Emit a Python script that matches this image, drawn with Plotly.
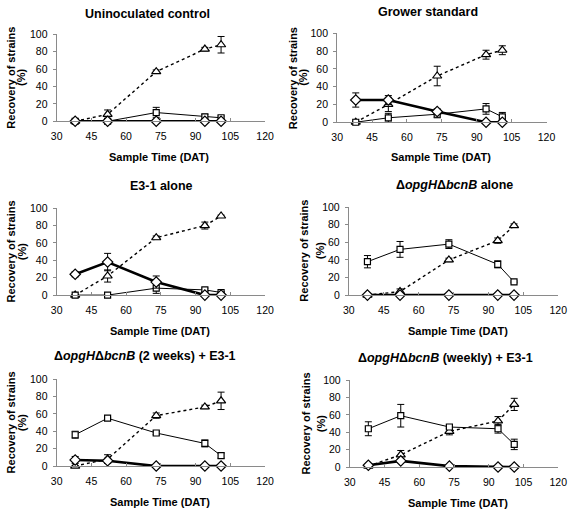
import plotly.graph_objects as go

W, H = 576, 515
FONT = "Liberation Sans, Arial, sans-serif"

# ---- data ----
sample_days = [38, 52, 73, 94, 101]

panel_titles = [
    "Uninoculated control",
    "Grower standard",
    "E3-1 alone",
    "Δ<i>opgH</i>Δ<i>bcnB</i> alone",
    "Δ<i>opgH</i>Δ<i>bcnB</i> (2 weeks) + E3-1",
    "Δ<i>opgH</i>Δ<i>bcnB</i> (weekly) + E3-1",
]

triangle_vals = [
    [0, 8, 57, 83, 88],
    [0, 20, 52, 76, 81],
    [0, 22, 66, 80, 91],
    [0, 4, 40, 62, 79],
    [0, 8, 58, 68, 75],
    [1, 14, 41, 53, 72],
]
triangle_err = [
    [1, 5, 2, 2, 9.5],
    [0, 8, 11, 5, 5],
    [0, 7, 2, 4, 1],
    [0, 3, 2, 3, 2],
    [0, 5, 3, 2, 10],
    [0, 5, 4, 5, 7],
]
square_vals = [
    [0, 0, 10, 5, 4],
    [0, 5, 9, 15, 6],
    [0, 0, 8, 6, 3],
    [38, 52, 58, 35, 15],
    [36, 55, 38, 26, 12],
    [44, 59, 46, 44, 26],
]
square_err = [
    [0, 0, 6, 3, 2],
    [0, 5, 4, 6, 5],
    [0, 0, 6, 2, 1],
    [7, 9, 5, 4, 1],
    [4, 1, 2, 4, 3],
    [8, 13, 2, 5, 6],
]
diamond_vals = [
    [0, 0, 0, 0, 0],
    [25, 25, 12, 0, 0],
    [24, 38, 15, 0, 0],
    [0, 0, 0, 0, 0],
    [7, 6, 0, 0, 0],
    [2, 7, 1, 0, 0],
]
diamond_err = [
    [0, 0, 0, 0, 0],
    [8, 5, 3, 0, 0],
    [3, 10, 7, 0, 0],
    [0, 0, 0, 0, 0],
    [4, 3, 0, 0, 0],
    [0, 2, 0, 0, 0],
]

x_ticks = [30, 45, 60, 75, 90, 105, 120]
y_ticks = [0, 20, 40, 60, 80, 100]

# ---- layout in pixels (left, right, top, bottom of plot area) ----
boxes = [
    (52, 266, 29, 118),
    (340, 555, 28, 119),
    (52, 266, 207, 296),
    (352, 567, 206, 296),
    (52, 266, 382, 471),
    (353, 567, 383, 472),
]
title_pos = [(145, 8), (433, 6), (160, 184), (461, 183), (143, 358), (451, 360)]
xtitle_pos = [(157, 155), (447, 155), (158, 333), (464, 333), (158, 508), (464, 509)]
ytitle_x1 = [5, 294, 5, 306.5, 5, 308]
ytitle_x2 = [15.5, 305, 16, 322.5, 16, 323]


def px_x(px):
    return px / W


def px_y(py):
    return 1 - py / H


fig = go.Figure()
layout = dict(
    width=W, height=H, margin=dict(l=0, r=0, t=0, b=0),
    paper_bgcolor="white", plot_bgcolor="white", showlegend=False,
    hovermode=False,
    font=dict(family=FONT, size=10, color="black"),
)
annotations = []

for i in range(6):
    k = "" if i == 0 else str(i + 1)
    xa, ya = "x" + k, "y" + k
    l, r, t, b = boxes[i]
    layout["xaxis" + k] = dict(
        domain=[px_x(l), px_x(r)], range=[30, 120], anchor=ya,
        tickvals=x_ticks, showline=True, linecolor="#8a8a8a", linewidth=1,
        ticks="inside", ticklen=3, tickcolor="#8a8a8a", showgrid=False,
        zeroline=False, tickfont=dict(size=10.5, family=FONT),
        ticklabelstandoff=5,
    )
    layout["yaxis" + k] = dict(
        domain=[px_y(b), px_y(t)], range=[0, 100], anchor=xa,
        tickvals=y_ticks, showline=True, linecolor="#8a8a8a", linewidth=1,
        ticks="outside", ticklen=3, tickcolor="#8a8a8a", showgrid=False,
        zeroline=False, tickfont=dict(size=10.5, family=FONT),
        ticklabelstandoff=3,
    )

    series = [
        (triangle_vals[i], triangle_err[i], "triangle-up", 8,
         dict(color="black", width=1.4, dash="dot")),
        (square_vals[i], square_err[i], "square", 6,
         dict(color="black", width=1)),
        (diamond_vals[i], diamond_err[i], "diamond", 8,
         dict(color="black", width=2.6)),
    ]
    for vals, errs, sym, sz, ln in series:
        fig.add_trace(go.Scatter(
            x=sample_days, y=vals, xaxis=xa, yaxis=ya, mode="lines+markers",
            line=ln, cliponaxis=False,
            marker=dict(symbol=sym, size=sz, color="white",
                        line=dict(color="black", width=1.2)),
            error_y=dict(type="data", array=errs, visible=True,
                         color="black", thickness=1, width=3.5),
        ))

    tx, ty = title_pos[i]
    annotations.append(dict(
        text="<b>" + panel_titles[i] + "</b>", x=px_x(tx), y=px_y(ty),
        xref="paper", yref="paper", xanchor="center", yanchor="middle",
        showarrow=False, font=dict(size=12.5, family=FONT),
    ))
    xx, xy = xtitle_pos[i]
    annotations.append(dict(
        text="<b>Sample Time (DAT)</b>", x=px_x(xx), y=px_y(xy),
        xref="paper", yref="paper", xanchor="center", yanchor="middle",
        showarrow=False, font=dict(size=11, family=FONT),
    ))
    for txt, xpos in (("<b>Recovery of strains</b>", ytitle_x1[i]),
                      ("<b>(%)</b>", ytitle_x2[i])):
        annotations.append(dict(
            text=txt, x=px_x(xpos), y=px_y((t + b) / 2),
            xref="paper", yref="paper", xanchor="center", yanchor="middle",
            textangle=-90, showarrow=False, font=dict(size=11, family=FONT),
        ))

layout["annotations"] = annotations
fig.update_layout(**layout)
fig.write_html(
    "out.html",
    config={"displayModeBar": False, "staticPlot": True},
    post_script="document.body.style.margin='0';document.body.style.overflow='hidden';",
)
